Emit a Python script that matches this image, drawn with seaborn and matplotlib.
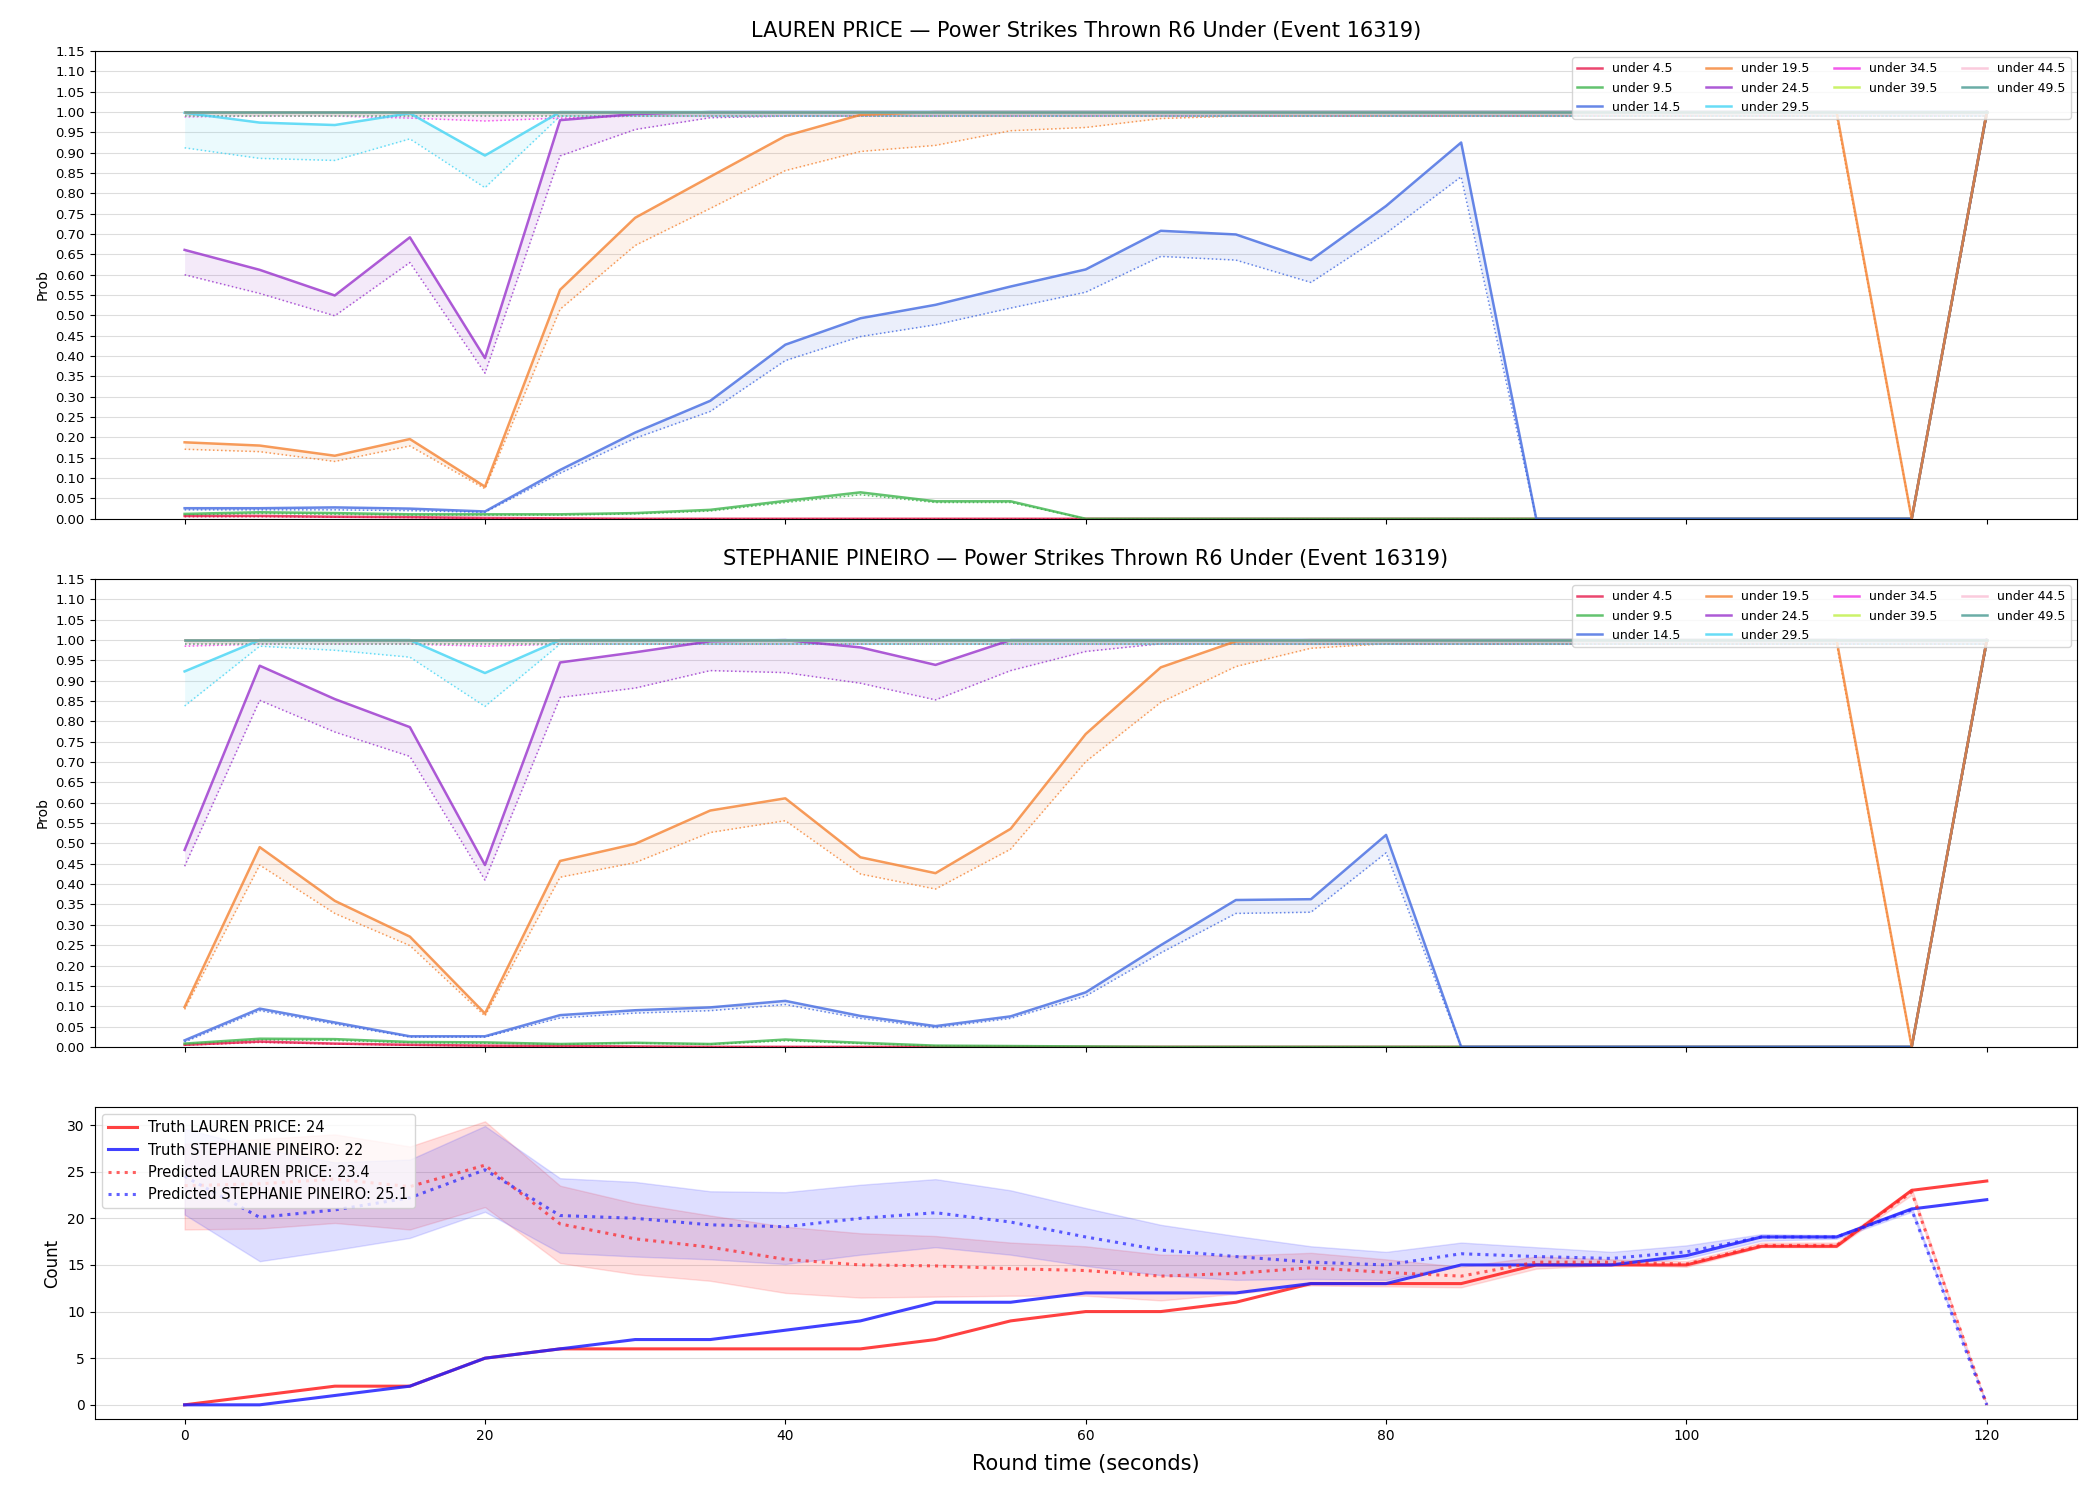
import pandas as pd
import numpy as np
import matplotlib
matplotlib.use("Agg")
import matplotlib.pyplot as plt
import seaborn as sns

# round time grid (seconds)
t = [0, 5, 10, 15, 20, 25, 30, 35, 40, 45, 50, 55, 60, 65, 70, 75, 80, 85, 90, 95, 100, 105, 110, 115, 120]

thresholds = ["under 4.5", "under 9.5", "under 14.5", "under 19.5", "under 24.5",
              "under 29.5", "under 34.5", "under 39.5", "under 44.5", "under 49.5"]
colors = ["#e6194b", "#3cb44b", "#4169e1", "#f58231", "#9932cc",
          "#42d4f4", "#f032e6", "#bfef45", "#fabed4", "#469990"]

flat_one = [1.0, 1.0, 1.0, 1.0, 1.0, 1.0, 1.0, 1.0, 1.0, 1.0, 1.0, 1.0, 1.0,
            1.0, 1.0, 1.0, 1.0, 1.0, 1.0, 1.0, 1.0, 1.0, 1.0, 1.0, 1.0]
flat_dot = [0.99, 0.99, 0.99, 0.99, 0.99, 0.99, 0.99, 0.99, 0.99, 0.99, 0.99, 0.99, 0.99,
            0.99, 0.99, 0.99, 0.99, 0.99, 0.99, 0.99, 0.99, 0.99, 0.99, 0.99, 0.99]

# LAUREN PRICE: solid = market, dotted = model
lp_4 = [0.007, 0.007, 0.005, 0.004, 0.002, 0.001, 0, 0, 0, 0, 0, 0, 0, 0, 0, 0, 0, 0, 0, 0, 0, 0, 0, 0, 1.0]
lp_4d = [0.005, 0.005, 0.004, 0.003, 0.001, 0, 0, 0, 0, 0, 0, 0, 0, 0, 0, 0, 0, 0, 0, 0, 0, 0, 0, 0, 0.99]
lp_9 = [0.012, 0.016, 0.014, 0.011, 0.011, 0.011, 0.014, 0.022, 0.044, 0.065, 0.043, 0.043, 0,
        0, 0, 0, 0, 0, 0, 0, 0, 0, 0, 0, 1.0]
lp_9d = [0.009, 0.013, 0.011, 0.009, 0.009, 0.009, 0.012, 0.019, 0.040, 0.059, 0.040, 0.040, 0,
         0, 0, 0, 0, 0, 0, 0, 0, 0, 0, 0, 0.99]
lp_14 = [0.026, 0.026, 0.028, 0.025, 0.018, 0.120, 0.212, 0.290, 0.428, 0.493, 0.526, 0.571, 0.613,
         0.708, 0.699, 0.636, 0.769, 0.925, 0, 0, 0, 0, 0, 0, 1.0]
lp_14d = [0.022, 0.022, 0.022, 0.020, 0.016, 0.112, 0.198, 0.264, 0.389, 0.448, 0.477, 0.518, 0.557,
          0.645, 0.636, 0.581, 0.702, 0.841, 0, 0, 0, 0, 0, 0, 0.99]
lp_19 = [0.188, 0.180, 0.155, 0.196, 0.079, 0.563, 0.740, 0.841, 0.941, 0.993, 1.0, 1.0, 1.0,
         1.0, 1.0, 1.0, 1.0, 1.0, 1.0, 1.0, 1.0, 1.0, 1.0, 0, 1.0]
lp_19d = [0.171, 0.165, 0.141, 0.179, 0.074, 0.515, 0.672, 0.763, 0.856, 0.903, 0.918, 0.954, 0.962,
          0.984, 0.99, 0.99, 0.99, 0.99, 0.99, 0.99, 0.99, 0.99, 0.99, 0, 0.99]
lp_24 = [0.661, 0.612, 0.549, 0.692, 0.395, 0.980, 0.995, 1.0, 1.0, 1.0, 1.0, 1.0, 1.0,
         1.0, 1.0, 1.0, 1.0, 1.0, 1.0, 1.0, 1.0, 1.0, 1.0, 1.0, 1.0]
lp_24d = [0.600, 0.554, 0.499, 0.630, 0.358, 0.892, 0.957, 0.986, 0.99, 0.99, 0.99, 0.99, 0.99,
          0.99, 0.99, 0.99, 0.99, 0.99, 0.99, 0.99, 0.99, 0.99, 0.99, 0.99, 0.99]
lp_29 = [0.998, 0.974, 0.968, 0.997, 0.893, 1.0, 1.0, 1.0, 1.0, 1.0, 1.0, 1.0, 1.0,
         1.0, 1.0, 1.0, 1.0, 1.0, 1.0, 1.0, 1.0, 1.0, 1.0, 1.0, 1.0]
lp_29d = [0.912, 0.886, 0.881, 0.934, 0.814, 0.99, 0.99, 0.99, 0.99, 0.99, 0.99, 0.99, 0.99,
          0.99, 0.99, 0.99, 0.99, 0.99, 0.99, 0.99, 0.99, 0.99, 0.99, 0.99, 0.99]
lp_34d = [0.988, 0.99, 0.99, 0.985, 0.978, 0.985, 0.99, 0.99, 0.99, 0.99, 0.99, 0.99, 0.99,
          0.99, 0.99, 0.99, 0.99, 0.99, 0.99, 0.99, 0.99, 0.99, 0.99, 0.99, 0.99]

# STEPHANIE PINEIRO
sp_4 = [0.005, 0.013, 0.008, 0.005, 0.003, 0.002, 0.001, 0, 0, 0, 0, 0, 0, 0, 0, 0, 0, 0, 0, 0, 0, 0, 0, 0, 1.0]
sp_4d = [0.004, 0.011, 0.007, 0.004, 0.002, 0.001, 0, 0, 0, 0, 0, 0, 0, 0, 0, 0, 0, 0, 0, 0, 0, 0, 0, 0, 0.99]
sp_9 = [0.008, 0.020, 0.019, 0.012, 0.011, 0.007, 0.010, 0.007, 0.018, 0.010, 0.003, 0.002, 0.001,
        0, 0, 0, 0, 0, 0, 0, 0, 0, 0, 0, 1.0]
sp_9d = [0.007, 0.017, 0.016, 0.010, 0.009, 0.006, 0.009, 0.006, 0.015, 0.008, 0.002, 0.001, 0,
         0, 0, 0, 0, 0, 0, 0, 0, 0, 0, 0, 0.99]
sp_14 = [0.016, 0.094, 0.060, 0.026, 0.026, 0.078, 0.090, 0.097, 0.113, 0.076, 0.051, 0.075, 0.134,
         0.250, 0.361, 0.363, 0.521, 0, 0, 0, 0, 0, 0, 0, 1.0]
sp_14d = [0.012, 0.089, 0.056, 0.024, 0.024, 0.071, 0.083, 0.089, 0.104, 0.070, 0.047, 0.070, 0.125,
          0.231, 0.328, 0.331, 0.477, 0, 0, 0, 0, 0, 0, 0, 0.99]
sp_19 = [0.098, 0.491, 0.359, 0.271, 0.082, 0.457, 0.499, 0.581, 0.611, 0.466, 0.427, 0.536, 0.769,
         0.933, 0.997, 1.0, 1.0, 1.0, 1.0, 1.0, 1.0, 1.0, 1.0, 0, 1.0]
sp_19d = [0.092, 0.447, 0.328, 0.249, 0.076, 0.417, 0.453, 0.527, 0.556, 0.425, 0.388, 0.486, 0.701,
          0.847, 0.935, 0.980, 0.991, 0.99, 0.99, 0.99, 0.99, 0.99, 0.99, 0, 0.99]
sp_24 = [0.484, 0.937, 0.855, 0.786, 0.447, 0.945, 0.970, 0.997, 1.0, 0.982, 0.939, 1.0, 1.0,
         1.0, 1.0, 1.0, 1.0, 1.0, 1.0, 1.0, 1.0, 1.0, 1.0, 1.0, 1.0]
sp_24d = [0.444, 0.852, 0.774, 0.714, 0.410, 0.859, 0.882, 0.925, 0.920, 0.894, 0.853, 0.925, 0.972,
          0.991, 0.99, 0.99, 0.99, 0.99, 0.99, 0.99, 0.99, 0.99, 0.99, 0.99, 0.99]
sp_29 = [0.923, 1.0, 1.0, 1.0, 0.919, 1.0, 1.0, 1.0, 1.0, 1.0, 1.0, 1.0, 1.0,
         1.0, 1.0, 1.0, 1.0, 1.0, 1.0, 1.0, 1.0, 1.0, 1.0, 1.0, 1.0]
sp_29d = [0.838, 0.985, 0.975, 0.958, 0.837, 0.99, 0.99, 0.99, 0.99, 0.99, 0.99, 0.99, 0.99,
          0.99, 0.99, 0.99, 0.99, 0.99, 0.99, 0.99, 0.99, 0.99, 0.99, 0.99, 0.99]
sp_34d = [0.985, 0.99, 0.99, 0.99, 0.985, 0.99, 0.99, 0.99, 0.99, 0.99, 0.99, 0.99, 0.99,
          0.99, 0.99, 0.99, 0.99, 0.99, 0.99, 0.99, 0.99, 0.99, 0.99, 0.99, 0.99]

# counts
truth_lp = [0, 1, 2, 2, 5, 6, 6, 6, 6, 6, 7, 9, 10, 10, 11, 13, 13, 13, 15, 15, 15, 17, 17, 23, 24]
truth_sp = [0, 0, 1, 2, 5, 6, 7, 7, 8, 9, 11, 11, 12, 12, 12, 13, 13, 15, 15, 15, 16, 18, 18, 21, 22]
pred_lp = [23.5, 23.7, 24.2, 23.4, 25.7, 19.4, 17.8, 16.9, 15.6, 15.0, 14.9, 14.6, 14.4,
           13.8, 14.1, 14.7, 14.2, 13.8, 15.3, 15.3, 15.1, 17.1, 17.1, 22.8, 0]
pred_lp_lo = [18.8, 18.9, 19.5, 18.8, 21.2, 15.2, 14.0, 13.3, 12.0, 11.5, 11.6, 11.7, 11.7,
              11.2, 11.9, 12.8, 12.7, 12.6, 14.6, 15.0, 14.8, 16.9, 16.9, 22.5, 0]
pred_lp_hi = [28.0, 28.5, 29.0, 27.7, 30.4, 23.5, 21.6, 20.3, 19.1, 18.4, 18.1, 17.4, 17.0,
              16.1, 16.0, 16.3, 15.6, 14.8, 15.9, 15.6, 15.4, 17.4, 17.4, 23.2, 0]
pred_sp = [24.5, 20.1, 20.9, 22.2, 25.2, 20.3, 20.0, 19.3, 19.1, 20.0, 20.6, 19.6, 18.0,
           16.6, 15.9, 15.3, 15.0, 16.2, 15.9, 15.7, 16.4, 18.0, 18.0, 20.9, 0]
pred_sp_lo = [20.4, 15.4, 16.6, 17.9, 20.7, 16.3, 15.9, 15.6, 15.1, 16.1, 16.9, 16.1, 14.9,
              13.9, 13.4, 13.5, 13.4, 15.1, 15.1, 15.1, 15.7, 17.6, 17.8, 20.7, 0]
pred_sp_hi = [29.6, 27.5, 26.0, 26.3, 29.9, 24.3, 23.9, 22.9, 22.8, 23.6, 24.2, 23.0, 21.1,
              19.3, 18.1, 17.0, 16.4, 17.4, 16.9, 16.4, 17.1, 18.3, 18.2, 21.2, 0]

players = {
    "LAUREN PRICE": (
        [lp_4, lp_9, lp_14, lp_19, lp_24, lp_29, flat_one, flat_one, flat_one, flat_one],
        [lp_4d, lp_9d, lp_14d, lp_19d, lp_24d, lp_29d, lp_34d, flat_dot, flat_dot, flat_dot]),
    "STEPHANIE PINEIRO": (
        [sp_4, sp_9, sp_14, sp_19, sp_24, sp_29, flat_one, flat_one, flat_one, flat_one],
        [sp_4d, sp_9d, sp_14d, sp_19d, sp_24d, sp_29d, sp_34d, flat_dot, flat_dot, flat_dot]),
}

fig, axes = plt.subplots(3, 1, figsize=(21, 15), dpi=100, sharex=True,
                         gridspec_kw={"height_ratios": [3, 3, 2]})
fig.subplots_adjust(left=0.045, right=0.989, top=0.966, bottom=0.054, hspace=0.145)

palette = dict(zip(thresholds, colors))
for ax, (name, (solid, dotted)) in zip(axes[:2], players.items()):
    rows = []
    for th, s, d in zip(thresholds, solid, dotted):
        for tt, sv, dv in zip(t, s, d):
            rows.append({"t": tt, "prob": sv, "pred": dv, "line": th})
    df = pd.DataFrame(rows)
    for th in thresholds:
        sub = df[df["line"] == th]
        ax.fill_between(sub["t"], sub["pred"], sub["prob"], color=palette[th], alpha=0.1, lw=0)
        sns.lineplot(data=sub, x="t", y="pred", color=palette[th], ax=ax, lw=1.1,
                     ls=":", alpha=0.8, legend=False)
    sns.lineplot(data=df, x="t", y="prob", hue="line", hue_order=thresholds, palette=palette,
                 ax=ax, lw=1.8, alpha=0.8)
    ax.set_ylim(0, 1.15)
    ax.set_yticks(np.arange(0, 1.1501, 0.05))
    ax.set_yticklabels([f"{v:.2f}" for v in np.arange(0, 1.1501, 0.05)])
    ax.grid(axis="y", color="#dddddd", lw=0.8)
    ax.set_axisbelow(True)
    ax.set_ylabel("Prob", fontsize=10)
    ax.set_xlabel("")
    ax.set_title(f"{name} — Power Strikes Thrown R6 Under (Event 16319)", fontsize=15, pad=10)
    ax.tick_params(labelsize=9.5)
    ax.legend(loc="upper right", ncol=4, fontsize=9, framealpha=0.8, edgecolor="#cccccc")

ax = axes[2]
cdf = pd.DataFrame({"t": t, "truth_lp": truth_lp, "truth_sp": truth_sp,
                    "pred_lp": pred_lp, "pred_sp": pred_sp})
ax.fill_between(t, pred_lp_lo, pred_lp_hi, color="#ff4040", alpha=0.17)
ax.fill_between(t, pred_sp_lo, pred_sp_hi, color="#4040ff", alpha=0.17)
sns.lineplot(data=cdf, x="t", y="truth_lp", color="#ff2020", lw=2.2, alpha=0.85, ax=ax,
             label="Truth LAUREN PRICE: 24")
sns.lineplot(data=cdf, x="t", y="truth_sp", color="#2020ff", lw=2.2, alpha=0.85, ax=ax,
             label="Truth STEPHANIE PINEIRO: 22")
sns.lineplot(data=cdf, x="t", y="pred_lp", color="#ff2020", lw=2.2, ls=":", alpha=0.7, ax=ax,
             label="Predicted LAUREN PRICE: 23.4")
sns.lineplot(data=cdf, x="t", y="pred_sp", color="#2020ff", lw=2.2, ls=":", alpha=0.7, ax=ax,
             label="Predicted STEPHANIE PINEIRO: 25.1")
ax.grid(axis="y", color="#dddddd", lw=0.8)
ax.set_axisbelow(True)
ax.set_ylabel("Count", fontsize=12)
ax.set_xlabel("Round time (seconds)", fontsize=15, labelpad=8)
ax.tick_params(labelsize=10)
ax.set_xticks([0, 20, 40, 60, 80, 100, 120])
ax.legend(loc="upper left", fontsize=10.5, framealpha=0.8, edgecolor="#cccccc")

plt.savefig("out.png")
